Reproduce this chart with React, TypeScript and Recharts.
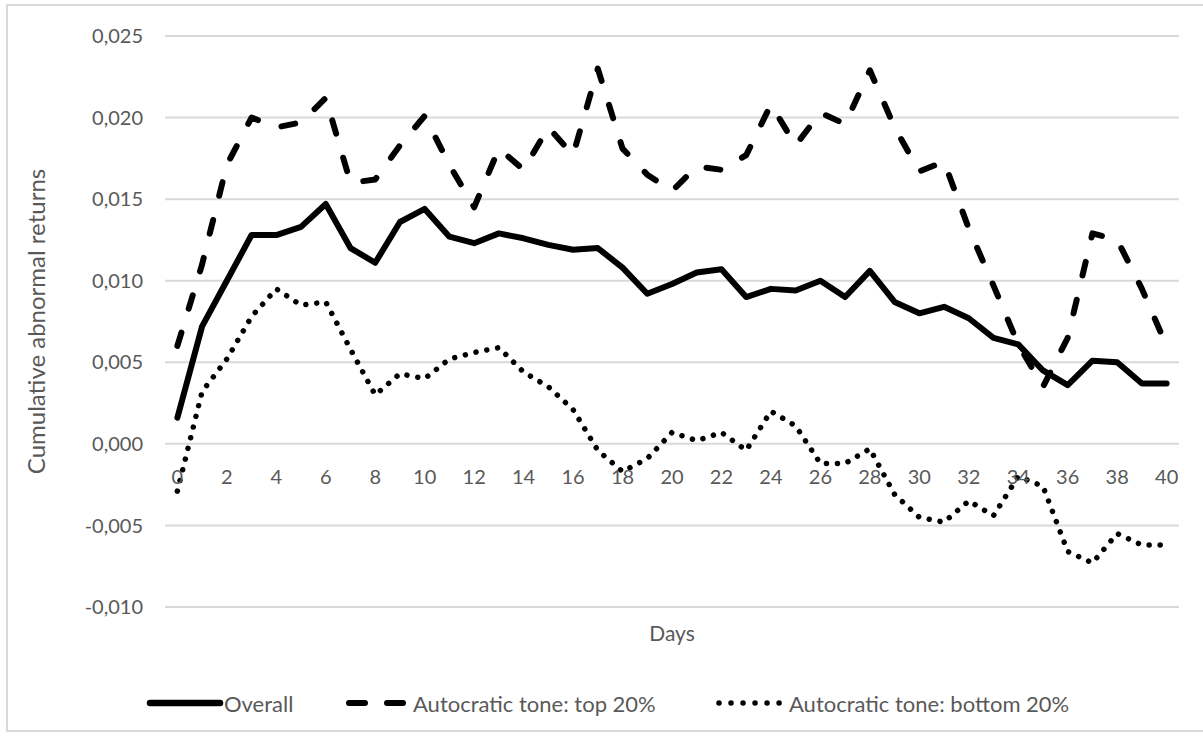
import { LineChart, Line, XAxis, YAxis, CartesianGrid, Legend, Label } from 'recharts';

const days = [0, 1, 2, 3, 4, 5, 6, 7, 8, 9, 10, 11, 12, 13, 14, 15, 16, 17, 18, 19, 20, 21, 22, 23, 24, 25, 26, 27, 28, 29, 30, 31, 32, 33, 34, 35, 36, 37, 38, 39, 40];

const overall = [
  0.0016, 0.0072, 0.01, 0.0128, 0.0128, 0.0133, 0.0147, 0.012, 0.0111, 0.0136, 0.0144,
  0.0127, 0.0123, 0.0129, 0.0126, 0.0122, 0.0119, 0.012, 0.0108, 0.0092, 0.0098,
  0.0105, 0.0107, 0.009, 0.0095, 0.0094, 0.01, 0.009, 0.0106, 0.0087, 0.008,
  0.0084, 0.0077, 0.0065, 0.0061, 0.0045, 0.0036, 0.0051, 0.005, 0.0037, 0.0037,
];

const topTone = [
  0.006, 0.011, 0.0171, 0.02, 0.0194, 0.0197, 0.0212, 0.016, 0.0162, 0.0183, 0.0201,
  0.0171, 0.0145, 0.0181, 0.0168, 0.0194, 0.0177, 0.023, 0.0181, 0.0165, 0.0155,
  0.017, 0.0168, 0.0177, 0.0208, 0.0183, 0.0203, 0.0196, 0.0229, 0.0194, 0.0167,
  0.0173, 0.0132, 0.0097, 0.0061, 0.0035, 0.0065, 0.0129, 0.0125, 0.0095, 0.006,
];

const bottomTone = [
  -0.0029, 0.0032, 0.0052, 0.0078, 0.0095, 0.0085, 0.0087, 0.0058, 0.003, 0.0043, 0.004,
  0.0052, 0.0056, 0.0059, 0.0044, 0.0035, 0.0021, -0.0004, -0.0017, -0.0009, 0.0007,
  0.0002, 0.0007, -0.0004, 0.002, 0.0011, -0.0012, -0.0012, -0.0003, -0.0031, -0.0045,
  -0.0048, -0.0035, -0.0044, -0.002, -0.0026, -0.0066, -0.0073, -0.0055, -0.0062, -0.0062,
];

const yTicks = [-0.01, -0.005, 0, 0.005, 0.01, 0.015, 0.02, 0.025];
const xTicks = [0, 2, 4, 6, 8, 10, 12, 14, 16, 18, 20, 22, 24, 26, 28, 30, 32, 34, 36, 38, 40];

const series = [
  { key: 'bottom', name: 'Autocratic tone: bottom 20%', dash: '0.01 11', width: 5.5 },
  { key: 'top', name: 'Autocratic tone: top 20%', dash: '14 25', width: 6 },
  { key: 'overall', name: 'Overall', dash: undefined, width: 6 },
];

const data = days.map((day, i) => ({
  day,
  overall: overall[i],
  top: topTone[i],
  bottom: bottomTone[i],
}));

const FONT = 'Lato, "Open Sans", sans-serif';
const GREY = '#595959';

const DayTick = ({ x, y, payload }: any) => (
  <text x={x} y={y} dy={-123} textAnchor="middle" fill={GREY} fontSize={20} fontFamily={FONT}>
    {payload.value}
  </text>
);

const YTitle = ({ viewBox }: any) => {
  const cx = viewBox.x + 35;
  const cy = viewBox.y + viewBox.height / 2;
  return (
    <text
      x={cx}
      y={cy}
      transform={`rotate(-90 ${cx} ${cy})`}
      textAnchor="middle"
      dominantBaseline="central"
      fill={GREY}
      fontSize={24}
      fontFamily={FONT}
    >
      Cumulative abnormal returns
    </text>
  );
};

const XTitle = ({ viewBox }: any) => (
  <text
    x={viewBox.x + viewBox.width / 2}
    y={viewBox.y + 25}
    textAnchor="middle"
    dominantBaseline="central"
    fill={GREY}
    fontSize={21}
    fontFamily={FONT}
  >
    Days
  </text>
);

// legend samples placed like the Excel original
const legendItems = [
  { name: 'Overall', left: 146, len: 70, dash: undefined, width: 6.5 },
  { name: 'Autocratic tone: top 20%', left: 345, len: 60, dash: '16 22', width: 6 },
  { name: 'Autocratic tone: bottom 20%', left: 715, len: 66, dash: '0.01 12', width: 5.5 },
];

const renderLegend = () => (
  <div style={{ position: 'relative', width: 1203, height: 30 }}>
    {legendItems.map((item) => (
      <div
        key={item.name}
        style={{ position: 'absolute', left: item.left, top: 0, height: 30, display: 'flex', alignItems: 'center' }}
      >
        <svg width={item.len + 8} height={12} style={{ display: 'block' }}>
          <line
            x1={4}
            y1={6}
            x2={item.len + 4}
            y2={6}
            stroke="#000"
            strokeWidth={item.width}
            strokeLinecap="round"
            strokeDasharray={item.dash}
          />
        </svg>
        <span style={{ marginLeft: 0, fontFamily: FONT, fontSize: 22, color: GREY, whiteSpace: 'nowrap' }}>
          {item.name}
        </span>
      </div>
    ))}
  </div>
);

export default function App() {
  return (
    <div style={{ position: 'absolute', left: 0, top: 0, width: 1203, height: 736, overflow: 'hidden', background: '#fff' }}>
      <div
        style={{
          position: 'absolute',
          left: 6,
          top: 4,
          width: 1220,
          height: 728,
          border: '2px solid #d9d9d9',
          boxSizing: 'border-box',
        }}
      />
      <div style={{ position: 'absolute', left: 0, top: 0 }}>
        <LineChart width={1203} height={736} data={data} margin={{ top: 36, right: 24, left: 0, bottom: 89 }}>
          <CartesianGrid vertical={false} stroke="#d9d9d9" strokeWidth={2} />
          <XAxis
            dataKey="day"
            type="number"
            domain={[-0.5, 40.5]}
            ticks={xTicks}
            interval={0}
            axisLine={false}
            tickLine={false}
            tickSize={0}
            tickMargin={0}
            height={40}
            tick={<DayTick />}
          >
            <Label content={<XTitle />} />
          </XAxis>
          <YAxis
            type="number"
            domain={[-0.01, 0.025]}
            ticks={yTicks}
            interval={0}
            width={165}
            axisLine={false}
            tickLine={false}
            tickSize={0}
            tickMargin={22}
            tickFormatter={(v: number) => v.toFixed(3).replace('.', ',')}
            tick={{ fill: GREY, fontSize: 20, fontFamily: FONT }}
          >
            <Label content={<YTitle />} />
          </YAxis>
          <Legend
            layout="horizontal"
            verticalAlign="middle"
            align="center"
            wrapperStyle={{ top: 688, left: 0, width: 1203, height: 30 }}
            content={renderLegend}
          />
          {series.map((s) => (
            <Line
              key={s.key}
              type="linear"
              dataKey={s.key}
              name={s.name}
              stroke="#000"
              strokeWidth={s.width}
              strokeDasharray={s.dash}
              strokeLinecap="round"
              strokeLinejoin="round"
              dot={false}
              activeDot={false}
              isAnimationActive={false}
            />
          ))}
        </LineChart>
      </div>
    </div>
  );
}
